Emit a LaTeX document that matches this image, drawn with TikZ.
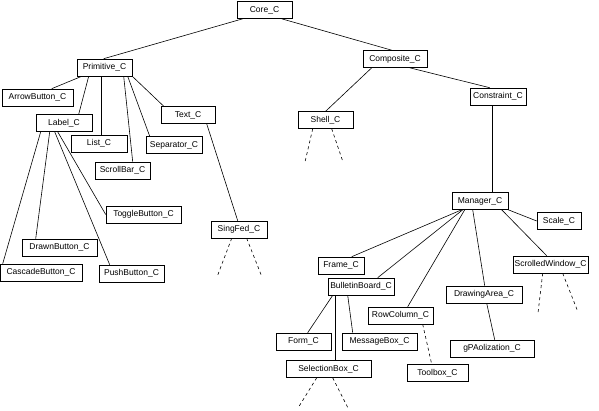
\documentclass[tikz,border=0pt]{standalone}
\usepackage{fontspec}
\setmainfont{Liberation Sans}

\begin{document}
\begin{tikzpicture}[x=1pt, y=-1pt, line width=0.6pt,
    cls/.style={draw, minimum height=17pt, inner sep=1pt, font=\fontsize{8.5}{10}\selectfont},
    stub/.style={dash pattern=on 3pt off 3pt}]
    \useasboundingbox (0,0) rectangle (599,410);

    % root and first level
    \node[cls, minimum width=55pt] (core)      at (264.5,10)  {Core\_C};
    \node[cls, minimum width=55pt] (primitive) at (104.5,67.5) {Primitive\_C};
    \node[cls, minimum width=64pt] (composite) at (395,59)    {Composite\_C};

    % primitive branch
    \node[cls, minimum width=71pt] (arrowbtn)  at (37.5,97.5)  {ArrowButton\_C};
    \node[cls, minimum width=56pt] (label)     at (64,123)     {Label\_C};
    \node[cls, minimum width=54pt] (text)      at (188,115)    {Text\_C};
    \node[cls, minimum width=56pt] (list)      at (99,143.5)   {List\_C};
    \node[cls, minimum width=56pt] (separator) at (174,145)    {Separator\_C};
    \node[cls, minimum width=55pt] (scrollbar) at (122.5,170.5) {ScrollBar\_C};
    \node[cls, minimum width=75pt] (togglebtn) at (143.5,214.5) {ToggleButton\_C};
    \node[cls, minimum width=56pt] (singfed)   at (239,229.5)  {SingFed\_C};
    \node[cls, minimum width=75pt] (drawnbtn)  at (59.5,247.5) {DrawnButton\_C};
    \node[cls, minimum width=82pt] (cascadebtn) at (41,272.5)  {CascadeButton\_C};
    \node[cls, minimum width=65pt] (pushbtn)   at (131.5,273.5) {PushButton\_C};

    % composite branch
    \node[cls, minimum width=55pt] (shell)      at (325.5,120)  {Shell\_C};
    \node[cls, minimum width=56pt] (constraint) at (498,96.5)   {Constraint\_C};
    \node[cls, minimum width=56pt] (manager)    at (480,201)    {Manager\_C};
    \node[cls, minimum width=44pt] (scale)      at (559,221)    {Scale\_C};
    \node[cls, minimum width=46pt] (frame)      at (341,265.5)  {Frame\_C};
    \node[cls, minimum width=66pt] (bboard)     at (361,286.5)  {BulletinBoard\_C};
    \node[cls, minimum width=75pt] (scrolled)   at (550.5,264.5) {ScrolledWindow\_C};
    \node[cls, minimum width=76pt] (drawarea)   at (484,294.5)  {DrawingArea\_C};
    \node[cls, minimum width=65pt] (rowcol)     at (400.5,315.5) {RowColumn\_C};
    \node[cls, minimum width=55pt] (form)       at (303.5,341.5) {Form\_C};
    \node[cls, minimum width=75pt] (msgbox)     at (379.5,341.5) {MessageBox\_C};
    \node[cls, minimum width=85pt] (selection)  at (328.5,369)  {SelectionBox\_C};
    \node[cls, minimum width=61pt] (toolbox)    at (437.5,373)  {Toolbox\_C};
    \node[cls, minimum width=84pt] (gpvis)      at (492,348.5)  {gPAolization\_C};

    % links
    \draw ([xshift=6pt]core.south west) -- ([xshift=27pt]primitive.north west);
    \draw ([xshift=45pt]core.south west) -- ([xshift=29pt]composite.north west);

    \draw ([xshift=5pt]primitive.south west) -- ([xshift=50pt]arrowbtn.north west);
    \draw ([xshift=12pt]primitive.south west) -- ([xshift=43pt]label.north west);
    \draw ([xshift=25pt]primitive.south west) -- ([xshift=31pt]list.north west);
    \draw ([xshift=47pt]primitive.south west) -- ([xshift=38pt]scrollbar.north west);
    \draw ([xshift=51pt]primitive.south west) -- ([xshift=4pt]separator.north west);
    \draw (primitive.south east) -- ([xshift=3pt]text.north west);
    \draw ([xshift=46pt]text.south west) -- ([xshift=27pt]singfed.north west);

    \draw ([xshift=5pt]label.south west) -- ([xshift=3pt]cascadebtn.north west);
    \draw ([xshift=14pt]label.south west) -- ([xshift=14pt]drawnbtn.north west);
    \draw ([xshift=19pt]label.south west) -- ([xshift=11pt]pushbtn.north west);
    \draw ([xshift=22pt]label.south west) -- (togglebtn.west);

    \draw ([xshift=9pt]composite.south west) -- ([xshift=28pt]shell.north west);
    \draw ([xshift=47pt]composite.south west) -- ([xshift=20pt]constraint.north west);
    \draw ([xshift=23pt]constraint.south west) -- ([xshift=41pt]manager.north west);

    \draw (manager.south east) -- (scale.west);
    \draw ([xshift=50pt]manager.south west) -- ([xshift=34pt]scrolled.north west);
    \draw ([xshift=21pt]manager.south west) -- ([xshift=39pt]drawarea.north west);
    \draw ([xshift=13pt]manager.south west) -- ([xshift=40pt]rowcol.north west);
    \draw ([xshift=11pt]manager.south west) -- ([xshift=50pt]bboard.north west);
    \draw ([xshift=10pt]manager.south west) -- ([xshift=34pt]frame.north west);

    \draw ([xshift=41pt]drawarea.south west) -- ([xshift=45pt]gpvis.north west);
    \draw[stub] ([xshift=55pt]rowcol.south west) -- ([xshift=25pt]toolbox.north west);
    \draw ([xshift=5pt]bboard.south west) -- ([xshift=32pt]form.north west);
    \draw ([xshift=8pt]bboard.south west) -- ([xshift=50pt]selection.north west);
    \draw ([xshift=20pt]bboard.south west) -- ([xshift=11pt]msgbox.north west);

    % open subtrees
    \coordinate (shell-l) at (305,162);     \coordinate (shell-r) at (343,162);
    \coordinate (singfed-l) at (217,277);   \coordinate (singfed-r) at (262,277);
    \coordinate (scrolled-l) at (538,313);  \coordinate (scrolled-r) at (578,312);
    \coordinate (selection-l) at (298,408); \coordinate (selection-r) at (348,408);
    \foreach \nd/\la/\ra in {shell/15/34, singfed/21/36, scrolled/30/50, selection/31/47}{
        \draw[stub] ([xshift=\la pt]\nd.south west) -- (\nd-l);
        \draw[stub] ([xshift=\ra pt]\nd.south west) -- (\nd-r);
    }
\end{tikzpicture}
\end{document}
